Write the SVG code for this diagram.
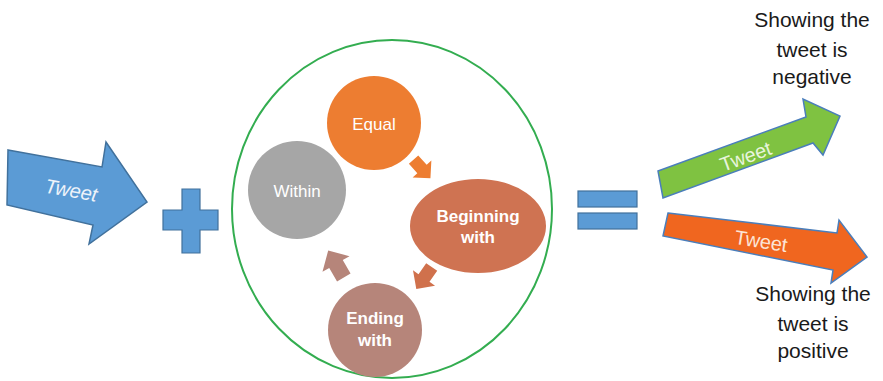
<svg xmlns="http://www.w3.org/2000/svg" width="883" height="381" viewBox="0 0 883 381">
<defs>
<style>
text { font-family: "Liberation Sans", Arial, sans-serif; text-anchor: middle; }
.blk { fill: #1a1a1a; font-size: 21px; }
.node { fill: #ffffff; font-size: 17px; }
.bold { font-weight: bold; }
.op { fill: #5b9bd5; stroke: #41719c; stroke-width: 1.2; }
.big { stroke: #41719c; stroke-width: 1.5; }
.tw { font-size: 20px; }
</style>
<polygon id="sa" points="-12,-6 0,-6 0,-12 12,0 0,12 0,6 -12,6"/>
</defs>
<rect width="883" height="381" fill="#ffffff"/>

<g id="input-tweet">
<polygon class="big" fill="#5b9bd5" points="8,150 102,167 106,142 147,202 89,244 93,225 7,205"/>
<text class="tw" fill="#eef3fa" font-style="italic" font-size="21" transform="translate(70,197) rotate(10)">Tweet</text>
</g>

<g id="plus">
<path class="op" d="M182,189 H200 V210 H218 V230 H200 V253 H182 V230 H163 V210 H182 Z"/>
</g>

<g id="cycle">
<ellipse cx="392" cy="209" rx="160" ry="169" fill="none" stroke="#33ad50" stroke-width="2"/>
<g id="equal">
<circle cx="374" cy="123" r="47" fill="#ed7d31"/>
<text class="node" x="374" y="130">Equal</text>
</g>
<g id="beginning">
<ellipse cx="478" cy="226" rx="68" ry="47" fill="#cf7352"/>
<text class="node bold" x="478" y="222">Beginning</text>
<text class="node bold" x="478" y="243">with</text>
</g>
<g id="ending">
<circle cx="375" cy="330" r="47" fill="#b6857a"/>
<text class="node bold" x="375" y="324">Ending</text>
<text class="node bold" x="375" y="346">with</text>
</g>
<g id="within">
<circle cx="297" cy="190" r="49" fill="#a6a6a6"/>
<text class="node" x="297" y="197">Within</text>
</g>
<g id="cycle-arrows">
<use href="#sa" fill="#ed7d31" transform="translate(422,169) rotate(48) scale(1.05)"/>
<use href="#sa" fill="#d0714c" transform="translate(424,278) rotate(125) scale(1.12)"/>
<use href="#sa" fill="#b6857a" transform="translate(336,264) rotate(-120) scale(1.3)"/>
</g>
</g>

<g id="equals">
<rect class="op" x="578" y="191" width="59" height="16"/>
<rect class="op" x="578" y="213" width="59" height="16"/>
</g>

<g id="negative-arrow">
<polygon fill="#7fc241" stroke="#4a7ebb" stroke-width="1.5" points="658,171 806,117 803,99 840,116 823,155 813,143 663,198"/>
<text class="tw" fill="#e8f4dc" transform="translate(748,163) rotate(-20)">Tweet</text>
</g>

<g id="positive-arrow">
<polygon fill="#f0661f" stroke="#4a7ebb" stroke-width="1.5" points="668,213 837,233 839,220 867,257 831,283 833,270 663,236"/>
<text class="tw" fill="#fce4d6" transform="translate(760,248) rotate(9)">Tweet</text>
</g>

<g id="label-negative">
<text class="blk" x="812" y="27">Showing the</text>
<text class="blk" x="812" y="57">tweet is</text>
<text class="blk" x="812" y="84">negative</text>
</g>

<g id="label-positive">
<text class="blk" x="813" y="301">Showing the</text>
<text class="blk" x="813" y="331">tweet is</text>
<text class="blk" x="813" y="358">positive</text>
</g>
</svg>
